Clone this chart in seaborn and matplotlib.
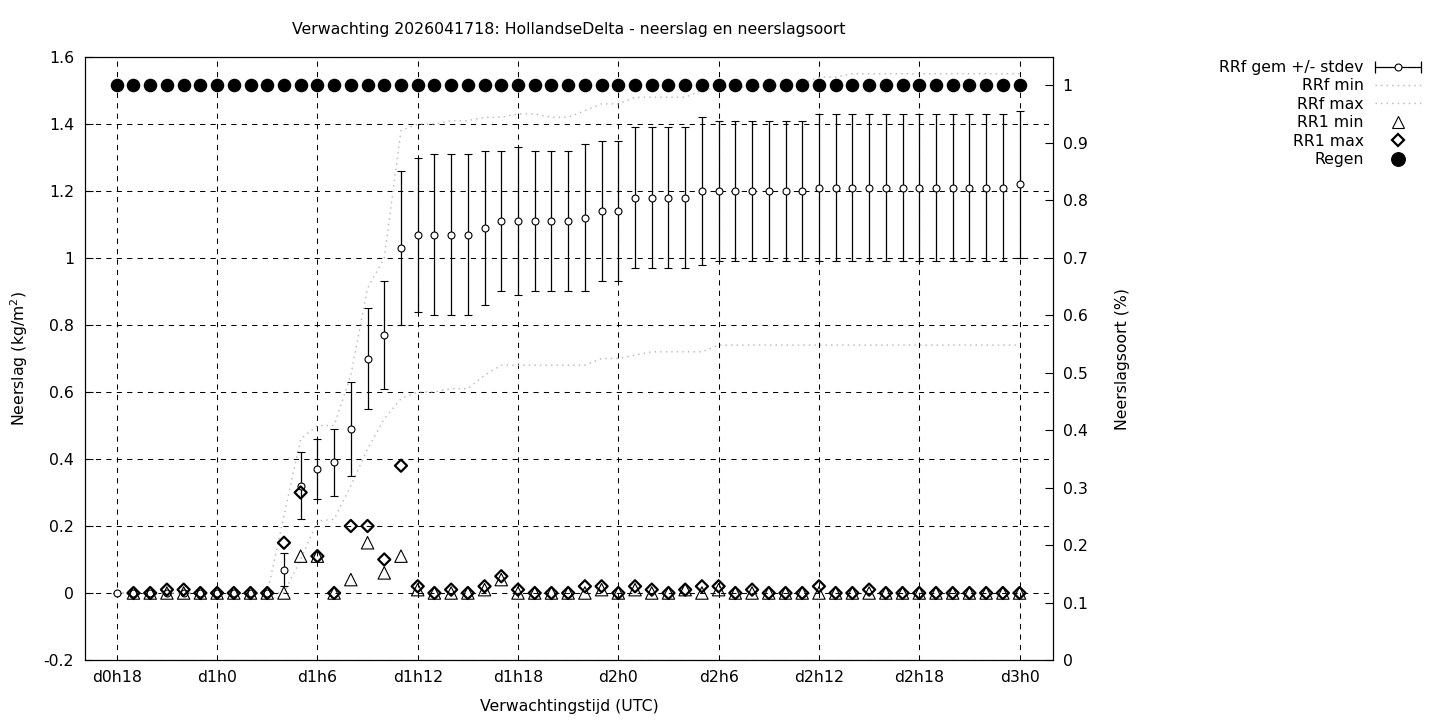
import matplotlib
matplotlib.use("Agg")
import matplotlib.pyplot as plt
from matplotlib.lines import Line2D
from matplotlib.legend_handler import HandlerLine2D, HandlerTuple
import numpy as np
import seaborn as sns

# forecast hours (lead time, hourly) d0h18 .. d3h0
hours = list(range(18, 73))
rr1_hours = list(range(19, 73))

# RRf gemiddelde en stdev (cumulatief)
rrf_mean = [0, 0, 0, 0, 0, 0, 0, 0, 0, 0,
            0.07, 0.32, 0.37, 0.39, 0.49, 0.70, 0.77, 1.03, 1.07, 1.07,
            1.07, 1.07, 1.09, 1.11, 1.11, 1.11, 1.11, 1.11, 1.12, 1.14,
            1.14, 1.18, 1.18, 1.18, 1.18, 1.20, 1.20, 1.20, 1.20, 1.20,
            1.20, 1.20, 1.21, 1.21, 1.21, 1.21, 1.21, 1.21, 1.21, 1.21,
            1.21, 1.21, 1.21, 1.21, 1.22]
rrf_sd = [0, 0, 0, 0, 0, 0, 0, 0, 0, 0,
          0.05, 0.10, 0.09, 0.10, 0.14, 0.15, 0.16, 0.23, 0.23, 0.24,
          0.24, 0.24, 0.23, 0.21, 0.22, 0.21, 0.21, 0.21, 0.22, 0.21,
          0.21, 0.21, 0.21, 0.21, 0.21, 0.22, 0.21, 0.21, 0.21, 0.21,
          0.21, 0.21, 0.22, 0.22, 0.22, 0.22, 0.22, 0.22, 0.22, 0.22,
          0.22, 0.22, 0.22, 0.22, 0.22]
rrf_min = [0, 0, 0, 0, 0, 0, 0, 0, 0, 0,
           0.0, 0.10, 0.215, 0.22, 0.32, 0.43, 0.52, 0.58, 0.60, 0.60,
           0.61, 0.61, 0.65, 0.68, 0.68, 0.68, 0.68, 0.68, 0.68, 0.70,
           0.70, 0.71, 0.72, 0.72, 0.72, 0.72, 0.74, 0.74, 0.74, 0.74,
           0.74, 0.74, 0.74, 0.74, 0.74, 0.74, 0.74, 0.74, 0.74, 0.74,
           0.74, 0.74, 0.74, 0.74, 0.74]
rrf_max = [0, 0, 0, 0, 0, 0, 0, 0, 0, 0,
           0.23, 0.46, 0.50, 0.50, 0.65, 0.91, 1.00, 1.38, 1.40, 1.40,
           1.41, 1.41, 1.42, 1.42, 1.43, 1.43, 1.42, 1.42, 1.44, 1.46,
           1.46, 1.48, 1.48, 1.48, 1.48, 1.50, 1.51, 1.51, 1.51, 1.51,
           1.52, 1.52, 1.54, 1.54, 1.55, 1.55, 1.55, 1.55, 1.55, 1.55,
           1.55, 1.55, 1.55, 1.55, 1.55]

# RR1 (uurlijks) min en max, vanaf h19
rr1_min = [0, 0, 0, 0, 0, 0, 0, 0, 0, 0,
           0.11, 0.11, 0, 0.04, 0.15, 0.06, 0.11, 0.01, 0, 0,
           0, 0.01, 0.04, 0, 0, 0, 0, 0, 0.01, 0,
           0.01, 0, 0, 0.01, 0, 0.01, 0, 0, 0, 0,
           0, 0, 0, 0, 0, 0, 0, 0, 0, 0,
           0, 0, 0, 0]
rr1_max = [0, 0, 0.01, 0.01, 0, 0, 0, 0, 0, 0.15,
           0.30, 0.11, 0, 0.20, 0.20, 0.10, 0.38, 0.02, 0, 0.01,
           0, 0.02, 0.05, 0.01, 0, 0, 0, 0.02, 0.02, 0,
           0.02, 0.01, 0, 0.01, 0.02, 0.02, 0, 0.01, 0, 0,
           0, 0.02, 0, 0, 0.01, 0, 0, 0, 0, 0,
           0, 0, 0, 0]

# neerslagsoort regen (fractie)
regen = [1, 1, 1, 1, 1, 1, 1, 1, 1, 1, 1, 1, 1, 1, 1, 1, 1, 1, 1, 1,
         1, 1, 1, 1, 1, 1, 1, 1, 1, 1, 1, 1, 1, 1, 1, 1, 1, 1, 1, 1,
         1, 1, 1, 1, 1, 1, 1, 1, 1, 1, 1, 1, 1, 1, 1]

xtick_hours = [18, 24, 30, 36, 42, 48, 54, 60, 66, 72]
xtick_labels = ["d0h18", "d1h0", "d1h6", "d1h12", "d1h18",
                "d2h0", "d2h6", "d2h12", "d2h18", "d3h0"]
ytick_vals = [-0.2, 0, 0.2, 0.4, 0.6, 0.8, 1.0, 1.2, 1.4, 1.6]
ytick_labels = ["-0.2", "0", "0.2", "0.4", "0.6", "0.8", "1", "1.2", "1.4", "1.6"]
y2tick_vals = [0, 0.1, 0.2, 0.3, 0.4, 0.5, 0.6, 0.7, 0.8, 0.9, 1.0]
y2tick_labels = ["0", "0.1", "0.2", "0.3", "0.4", "0.5", "0.6", "0.7", "0.8", "0.9", "1"]

sns.set_style("white")
plt.rcParams["font.family"] = ["DejaVu Sans"]
plt.rcParams["font.size"] = 11.3
plt.rcParams["text.color"] = "black"
plt.rcParams["axes.labelcolor"] = "black"

fig = plt.figure(figsize=(14.4, 7.2), dpi=100)
ax = fig.add_axes([85 / 1440, 60 / 720, 968 / 1440, 603 / 720])
ax2 = ax.twinx()

grid_style = dict(color="black", linestyle=(0, (5, 5)), linewidth=0.75)
ax.set_axisbelow(True)
ax.grid(True, **grid_style)

dotted = dict(color="#b5b5b5", linestyle=(0, (1, 3)), linewidth=1.0)

ax.errorbar(hours, rrf_mean, yerr=rrf_sd, fmt="o", ms=5, mfc="white", mec="black",
            mew=0.8, ecolor="black", elinewidth=0.9, capsize=2.6, capthick=0.9, zorder=3)
sns.lineplot(x=hours, y=rrf_min, ax=ax, zorder=2, **dotted)
sns.lineplot(x=hours, y=rrf_max, ax=ax, zorder=2, **dotted)
sns.scatterplot(x=rr1_hours, y=rr1_min, ax=ax, marker="^", s=80, facecolor="none",
                edgecolor="black", linewidth=0.8, zorder=4)
sns.scatterplot(x=rr1_hours, y=rr1_max, ax=ax, marker="D", s=38, facecolor="none",
                edgecolor="black", linewidth=1.6, zorder=5)
sns.scatterplot(x=hours, y=regen, ax=ax2, marker="o", s=95, color="black",
                edgecolor="black", linewidth=0, zorder=6)

ax.set_xlim(16.1, 74.0)
ax.set_ylim(-0.2, 1.6)
ax2.set_ylim(0, 1.0487)
ax.set_xticks(xtick_hours)
ax.set_xticklabels(xtick_labels)
ax.set_yticks(ytick_vals)
ax.set_yticklabels(ytick_labels)
ax2.set_yticks(y2tick_vals)
ax2.set_yticklabels(y2tick_labels)

ax.tick_params(axis="x", direction="in", length=6, width=0.8, pad=7, colors="black")
ax.tick_params(axis="y", direction="in", length=6, width=0.8, pad=8, colors="black")
ax2.tick_params(axis="y", direction="in", length=6, width=0.8, pad=7, colors="black")
for a in (ax, ax2):
    for sp in a.spines.values():
        sp.set_color("black")
        sp.set_linewidth(0.8)

ax.set_xlabel("Verwachtingstijd (UTC)", va="center", color="black")
ax.xaxis.set_label_coords(0.5, (660 - 707) / 603)
ax.set_ylabel("Neerslag (kg/m$^2$)", va="center", color="black")
ax.yaxis.set_label_coords((19 - 85) / 968, 0.5)
ax2.set_ylabel("Neerslagsoort (%)", va="center", rotation=90, color="black")
ax2.yaxis.set_label_coords((1123 - 85) / 968, 0.5)
ax.set_title("Verwachting 2026041718: HollandseDelta - neerslag en neerslagsoort",
             y=1 + (57 - 38) / 603, va="center", fontsize=11.3, color="black")

# legend (gnuplot style: label right, sample left)
eb_caps = Line2D([], [], color="black", lw=0.9, marker="|", ms=8, mew=0.9)
eb_circ = Line2D([], [], ls="none", marker="o", ms=5, mfc="white", mec="black", mew=0.8)
min_h = Line2D([], [], **dotted)
max_h = Line2D([], [], **dotted)
tri_h = Line2D([], [], ls="none", marker="^", ms=9, mfc="none", mec="black", mew=0.8)
dia_h = Line2D([], [], ls="none", marker="D", ms=6.2, mfc="none", mec="black", mew=1.6)
reg_h = Line2D([], [], ls="none", marker="o", ms=9.7, mfc="black", mec="black")
handles = [(eb_caps, eb_circ), min_h, max_h, tri_h, dia_h, reg_h]
labels = ["RRf gem +/- stdev", "RRf min", "RRf max", "RR1 min", "RR1 max", "Regen"]
ax2.legend(handles, labels,
           handler_map={eb_caps: HandlerLine2D(numpoints=2, marker_pad=0),
                        eb_circ: HandlerLine2D(numpoints=1),
                        tuple: HandlerTuple(ndivide=1)},
           loc="upper right", bbox_to_anchor=(1421 / 1440, 1 - 60 / 720),
           bbox_transform=fig.transFigure, frameon=False, markerfirst=False,
           handlelength=2.9, handletextpad=0.75, labelspacing=0.22,
           borderpad=0, borderaxespad=0, fontsize=11.3)

fig.savefig("out.png", dpi=100)
